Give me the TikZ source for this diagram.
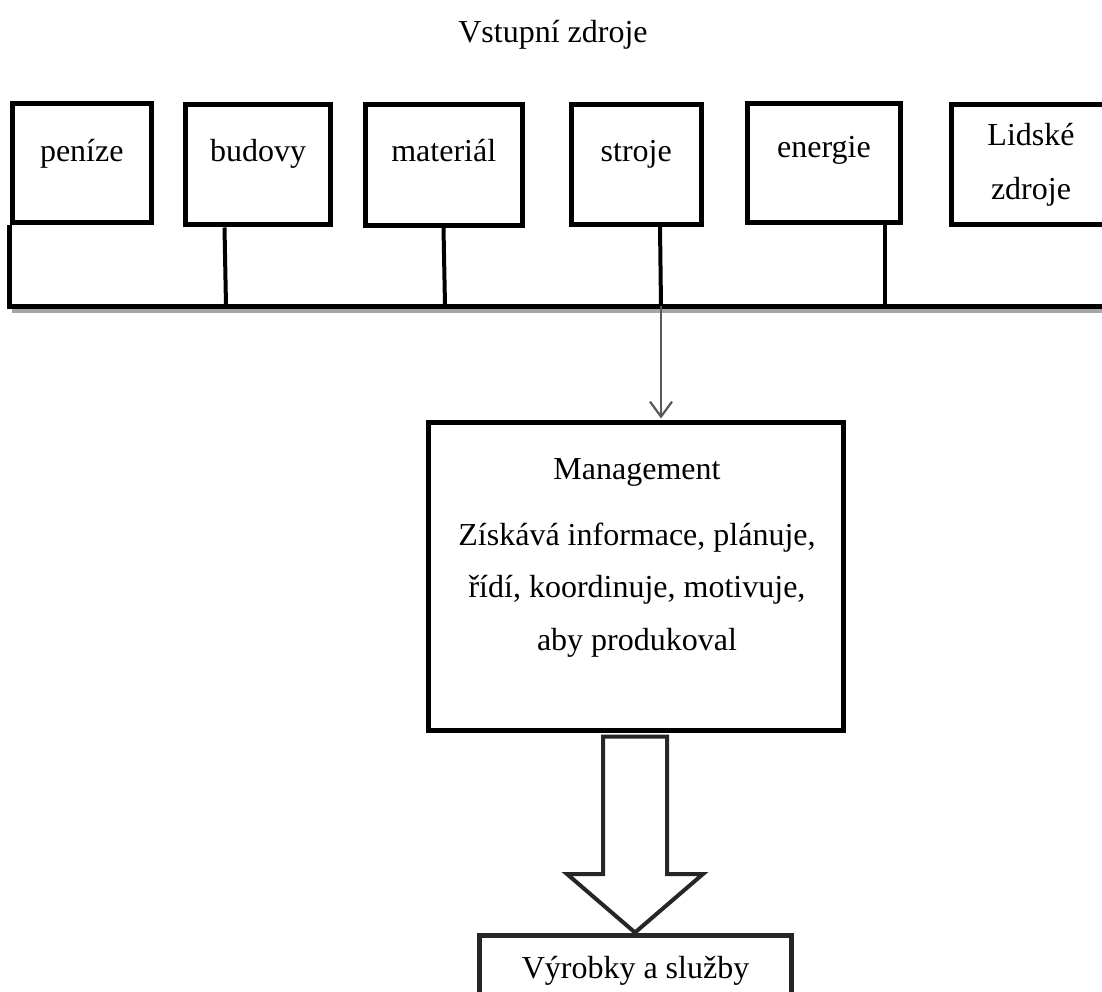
\documentclass[tikz,border=0pt]{standalone}
\usepackage{fontspec}
\setmainfont{Liberation Serif}
\usetikzlibrary{arrows.meta}
\definecolor{shadowgray}{HTML}{A6A6A6}
\definecolor{linkgray}{HTML}{595959}
\definecolor{arrowgray}{HTML}{262626}
\newcommand\diagfont{\fontsize{32}{38}\selectfont}
\begin{document}
\begin{tikzpicture}[x=1pt,y=-1pt,
  resbox/.style 2 args={draw=black,line width=5pt,rectangle,inner sep=0pt,
    minimum width=#1,minimum height=#2},
  txt/.style={anchor=base,inner sep=0pt,font=\diagfont},
  rail/.style={draw=black,line width=5pt,line join=miter},
  stem/.style={draw=black,line width=4pt}]
\path[use as bounding box] (0,0) rectangle (1102,992);
\clip (0,0) rectangle (1102,992);

% heading
\node[txt] (title) at (553,43) {Vstupní zdroje};

% input resources
\node[resbox={139.5pt}{119.5pt}] (penize)   at (81.75,163.25) {};
\node[resbox={145pt}{120pt}]     (budovy)   at (258,165) {};
\node[resbox={157.5pt}{120.5pt}] (material) at (443.75,165.25) {};
\node[resbox={130.5pt}{119.5pt}] (stroje)   at (636.25,164.75) {};
\node[resbox={153pt}{119pt}]     (energie)  at (824,163) {};
\node[resbox={160pt}{119.5pt}]   (lidske)   at (1031,164.75) {};

\node[txt] (penize-t)   at (81.75,162) {peníze};
\node[txt] (budovy-t)   at (258,162) {budovy};
\node[txt] (material-t) at (443.75,162) {materiál};
\node[txt] (stroje-t)   at (636.25,162) {stroje};
\node[txt] (energie-t)  at (824,158) {energie};
\node[txt] (lidske-t1)  at (1031,146) {Lidské};
\node[txt] (lidske-t2)  at (1031,200) {zdroje};

% collecting rail with its shadow
\coordinate (j1) at (226,306);
\coordinate (j2) at (445,306);
\coordinate (j3) at (661,306);
\coordinate (j4) at (885,306);
\coordinate (railL) at (penize.south west |- j1);
\coordinate (railR) at (1110,306);
\draw[shadowgray,line width=4pt] ([shift={(2,4.5)}]railL) -- ([shift={(0,4.5)}]railR);
\draw[rail] (penize.south west) -- (railL) -- (railR);
\draw[stem] ([xshift=-1.5pt]budovy.south -| j1) -- (j1);
\draw[stem] ([xshift=-1.5pt]material.south -| j2) -- (j2);
\draw[stem] ([xshift=-1pt]stroje.south -| j3) -- (j3);
\draw[stem] (energie.south -| j4) -- (j4);

% management
\node[resbox={414.5pt}{308pt}] (mgmt) at (635.75,576) {};
\node[txt] (mgmt-t0) at (637,479) {Management};
\node[txt] (mgmt-t1) at (637,545) {Získává informace, plánuje,};
\node[txt] (mgmt-t2) at (637,597) {řídí, koordinuje, motivuje,};
\node[txt] (mgmt-t3) at (637,650) {aby produkoval};

\draw[linkgray,line width=2.2pt,
  -{Straight Barb[length=15pt,width=22pt,line width=2.2pt]}]
  (j3) -- ([yshift=1pt]mgmt.north -| j3);

% output
\node[resbox={312pt}{80pt},draw=arrowgray] (result) at (635,975) {};
\node[txt] (result-t) at (635.5,978) {Výrobky a služby};

% broad arrow from management to output
\coordinate (sL) at ([shift={(-32.75,4)}]mgmt.south);
\coordinate (sR) at ([shift={(31.25,4)}]mgmt.south);
\coordinate (hy) at (0,874);
\draw[arrowgray,line width=4pt,line join=miter,fill=white]
  (sL) -- (sL |- hy) -- ([xshift=-68pt]result.north |- hy) -- (result.north)
  -- ([xshift=68pt]result.north |- hy) -- (sR |- hy) -- (sR) -- cycle;
\end{tikzpicture}
\end{document}
